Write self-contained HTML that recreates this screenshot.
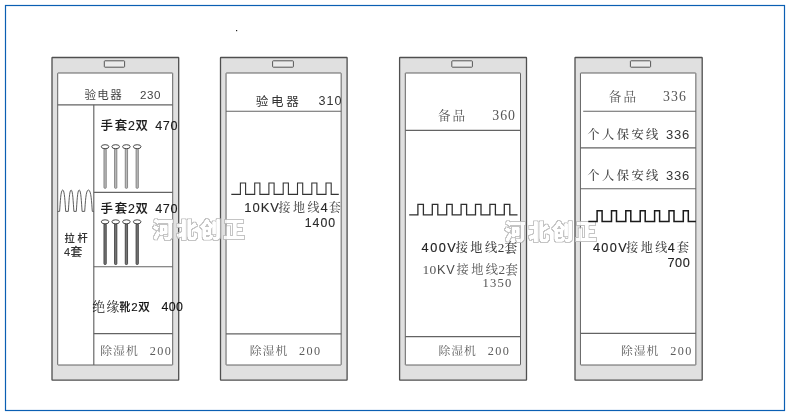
<!DOCTYPE html>
<html lang="zh"><head><meta charset="utf-8"><title>安全工具柜</title>
<style>
html,body{margin:0;padding:0;background:#fff;}
body{width:790px;height:416px;overflow:hidden;position:relative;}
svg{position:absolute;left:0;top:0;display:block;will-change:transform;}
.sans{font-family:"Liberation Sans","Noto Sans CJK SC",sans-serif;}
.serif{font-family:"Liberation Serif","Noto Serif CJK SC",serif;}
.m{font-weight:500;}
.hb{font-weight:500;stroke:currentColor;stroke-width:0.12px;}
.wm{font-family:"Liberation Sans","Noto Sans CJK SC",sans-serif;font-weight:900;fill:#fff;stroke:#fff;stroke-width:0.3;stroke-linejoin:round;}
</style></head><body>
<svg width="790" height="416" viewBox="0 0 790 416">
<rect x="5.5" y="5.5" width="779" height="405" fill="none" stroke="#0b5fb3" stroke-width="1.2"/>
<rect x="236" y="30" width="1.2" height="1.2" fill="#222"/>
<rect x="52.0" y="57.5" width="126.7" height="322.6" rx="0.4" fill="#e0e0e0" stroke="#4f4f4f" stroke-width="1.3"/>
<rect x="57.7" y="73.0" width="115.0" height="292.0" rx="0.4" fill="#fff" stroke="#636363" stroke-width="1"/>
<rect x="104.3" y="60.8" width="20.3" height="6.4" rx="0.7" fill="#eaeaea" stroke="#555" stroke-width="1"/>
<line x1="57.7" y1="104.8" x2="172.7" y2="104.8" stroke="#636363" stroke-width="1.15"/>
<line x1="93.8" y1="104.8" x2="93.8" y2="365.0" stroke="#636363" stroke-width="1.15"/>
<line x1="93.8" y1="192.4" x2="172.7" y2="192.4" stroke="#636363" stroke-width="1.15"/>
<line x1="93.8" y1="266.7" x2="172.7" y2="266.7" stroke="#636363" stroke-width="1.15"/>
<line x1="93.8" y1="333.6" x2="172.7" y2="333.6" stroke="#636363" stroke-width="1.15"/>
<text x="84.4 97.3 110.2" y="99" font-size="11.5" class="sans" fill="#444" color="#444">验电器</text>
<text x="140.0 146.9 153.9" y="98.6" font-size="11.6" class="sans" fill="#444" color="#444">230</text>
<text x="100.4 114.8 127.9 135.4" y="130.2" font-size="12.4" class="sans hb" fill="#1a1a1a" color="#1a1a1a">手套2双</text>
<text x="155.2 162.8 170.4" y="130.2" font-size="12.6" class="sans hb" fill="#1a1a1a" color="#1a1a1a">470</text>
<text x="100.4 114.8 127.9 135.4" y="213.0" font-size="12.4" class="sans hb" fill="#1a1a1a" color="#1a1a1a">手套2双</text>
<text x="155.2 162.8 170.4" y="213.0" font-size="12.6" class="sans hb" fill="#1a1a1a" color="#1a1a1a">470</text>
<rect x="103.95" y="148.7" width="2.3" height="39.6" rx="0.8" fill="#bbb" stroke="#666" stroke-width="0.7"/><ellipse cx="105.1" cy="146.7" rx="3.8" ry="2.0" fill="#fff" stroke="#333" stroke-width="0.9"/>
<rect x="114.55" y="148.7" width="2.3" height="39.6" rx="0.8" fill="#bbb" stroke="#666" stroke-width="0.7"/><ellipse cx="115.7" cy="146.7" rx="3.8" ry="2.0" fill="#fff" stroke="#333" stroke-width="0.9"/>
<rect x="125.25" y="148.7" width="2.3" height="39.6" rx="0.8" fill="#bbb" stroke="#666" stroke-width="0.7"/><ellipse cx="126.4" cy="146.7" rx="3.8" ry="2.0" fill="#fff" stroke="#333" stroke-width="0.9"/>
<rect x="136.05" y="148.7" width="2.3" height="39.6" rx="0.8" fill="#bbb" stroke="#666" stroke-width="0.7"/><ellipse cx="137.2" cy="146.7" rx="3.8" ry="2.0" fill="#fff" stroke="#333" stroke-width="0.9"/>
<rect x="103.95" y="223.8" width="2.3" height="40.7" rx="0.8" fill="#777" stroke="#333" stroke-width="0.8"/><ellipse cx="105.1" cy="221.8" rx="3.8" ry="2.0" fill="#fff" stroke="#333" stroke-width="0.9"/>
<rect x="114.55" y="223.8" width="2.3" height="40.7" rx="0.8" fill="#777" stroke="#333" stroke-width="0.8"/><ellipse cx="115.7" cy="221.8" rx="3.8" ry="2.0" fill="#fff" stroke="#333" stroke-width="0.9"/>
<rect x="125.25" y="223.8" width="2.3" height="40.7" rx="0.8" fill="#777" stroke="#333" stroke-width="0.8"/><ellipse cx="126.4" cy="221.8" rx="3.8" ry="2.0" fill="#fff" stroke="#333" stroke-width="0.9"/>
<rect x="136.05" y="223.8" width="2.3" height="40.7" rx="0.8" fill="#777" stroke="#333" stroke-width="0.8"/><ellipse cx="137.2" cy="221.8" rx="3.8" ry="2.0" fill="#fff" stroke="#333" stroke-width="0.9"/>
<path d="M57.7 211.4 H59.6 C60.30 202.4 60.70 190.0 62.7 190.0 C64.60 190.0 65.00 202.4 65.7 211.4 H68.3 C69.00 202.4 69.40 190.0 71.1 190.0 C72.80 190.0 73.20 202.4 73.9 211.4 H76.3 C77.00 202.4 77.40 190.0 79.2 190.0 C81.00 190.0 81.40 202.4 82.1 211.4 H84.7 C85.40 202.4 85.80 190.0 88.4 190.0 C91.20 190.0 91.60 202.4 92.3 211.4 H93.8" fill="none" stroke="#555" stroke-width="0.95"/>
<text x="64.5 77.4" y="241.9" font-size="10.2" class="sans hb" fill="#333" color="#333">拉杆</text>
<text x="63.9" y="255.6" font-size="11" class="sans hb" fill="#333" color="#333">4</text>
<text x="70.4" y="255.6" font-size="11.8" class="sans hb" fill="#333" color="#333">套</text>
<text x="92.2 106.6" y="310.7" font-size="12.8" class="serif" fill="#222" color="#222">绝缘</text>
<text x="119.6" y="310.6" font-size="10.8" class="sans hb" fill="#111" color="#111">靴</text>
<text x="131.3 138.2" y="310.8" font-size="11.5" class="sans hb" fill="#111" color="#111">2双</text>
<text x="161.6 168.8 176.0" y="310.9" font-size="12.4" class="sans hb" fill="#111" color="#111">400</text>
<text x="100.3 113.1 126.0" y="354.6" font-size="11.9" class="serif" fill="#5c5c5c" color="#5c5c5c">除湿机</text>
<text x="149.7 157.2 164.7" y="354.5" font-size="12.2" class="serif" fill="#5c5c5c" color="#5c5c5c">200</text>
<rect x="220.5" y="57.5" width="126.6" height="322.6" rx="0.4" fill="#e0e0e0" stroke="#4f4f4f" stroke-width="1.3"/>
<rect x="226.05" y="73.0" width="115.1" height="292.0" rx="0.4" fill="#fff" stroke="#636363" stroke-width="1"/>
<rect x="272.6" y="60.8" width="20.8" height="6.4" rx="0.7" fill="#eaeaea" stroke="#555" stroke-width="1"/>
<line x1="226.05" y1="111.2" x2="341.2" y2="111.2" stroke="#636363" stroke-width="1.15"/>
<line x1="226.05" y1="333.8" x2="341.2" y2="333.8" stroke="#636363" stroke-width="1.15"/>
<text x="255.8 271.0 286.2" y="105.5" font-size="12.5" class="sans" fill="#333" color="#333">验电器</text>
<text x="318.4 326.4 334.4" y="104.9" font-size="12.6" class="sans" fill="#333" color="#333">310</text>
<path d="M231.3 194.4 H240.4 V183.0 H245.6 V194.4 H254.7 V183.0 H259.9 V194.4 H268.9 V183.0 H274.1 V194.4 H283.2 V183.0 H288.4 V194.4 H297.5 V183.0 H302.7 V194.4 H311.8 V183.0 H316.9 V194.4 H326.0 V183.0 H331.2 V194.4 H338.8" fill="none" stroke="#333" stroke-width="1.1" stroke-linejoin="miter"/>
<text x="244.2" stroke="#2a2a2a" stroke-width="0.12" textLength="34.8" lengthAdjust="spacing" y="212.1" font-size="13" class="sans" fill="#2a2a2a" color="#2a2a2a">10KV</text>
<text x="278.6 293.0 307.4" y="212.3" font-size="12" class="serif m" fill="#505050" color="#505050">接地线</text>
<text x="320.6" y="212.1" font-size="13" class="sans hb" fill="#2a2a2a" color="#2a2a2a">4</text>
<text x="328.8" y="212.3" font-size="12" class="serif m" fill="#505050" color="#505050">套</text>
<text x="304.8 312.6 320.4 328.2" y="226.7" font-size="12.3" class="sans hb" fill="#2a2a2a" color="#2a2a2a">1400</text>
<text x="249.7 262.6 275.4" y="354.6" font-size="11.9" class="serif" fill="#5c5c5c" color="#5c5c5c">除湿机</text>
<text x="299.1 306.6 314.1" y="354.5" font-size="12.2" class="serif" fill="#5c5c5c" color="#5c5c5c">200</text>
<rect x="399.6" y="57.5" width="126.9" height="322.6" rx="0.4" fill="#e0e0e0" stroke="#4f4f4f" stroke-width="1.3"/>
<rect x="405.3" y="73.0" width="115.2" height="292.0" rx="0.4" fill="#fff" stroke="#636363" stroke-width="1"/>
<rect x="451.8" y="60.8" width="20.6" height="6.4" rx="0.7" fill="#eaeaea" stroke="#555" stroke-width="1"/>
<line x1="405.3" y1="130.3" x2="520.5" y2="130.3" stroke="#636363" stroke-width="1.15"/>
<line x1="405.3" y1="336.6" x2="520.5" y2="336.6" stroke="#636363" stroke-width="1.15"/>
<text x="437.9 452.5" y="119.8" font-size="12.6" class="serif" fill="#555" color="#555">备品</text>
<text x="492.3 500.2 508.1" y="119.7" font-size="13.8" class="serif" fill="#555" color="#555">360</text>
<path d="M409.2 214.8 H417.9 V204.3 H423.4 V214.8 H432.3 V204.3 H437.8 V214.8 H446.7 V204.3 H452.2 V214.8 H461.1 V204.3 H466.6 V214.8 H475.5 V204.3 H481.0 V214.8 H489.9 V204.3 H495.4 V214.8 H504.3 V204.3 H509.8 V214.8 H517.5" fill="none" stroke="#2e2e2e" stroke-width="1.3" stroke-linejoin="miter"/>
<text x="421.6" y="251.5" font-size="12.7" class="sans" fill="#222" stroke="#222" stroke-width="0.15" textLength="34.2" lengthAdjust="spacing">400V</text>
<text x="455.7 470.3 484.9" y="251.8" font-size="12.2" class="serif m" fill="#3a3a3a" color="#3a3a3a">接地线</text>
<text x="497.7" y="251.5" font-size="13.2" class="serif m" fill="#3a3a3a" color="#3a3a3a">2</text>
<text x="504.4" y="251.8" font-size="12.6" class="serif m" fill="#3a3a3a" color="#3a3a3a">套</text>
<text x="422.6" y="273.6" font-size="13.5" class="serif" fill="#585858" textLength="13.6" lengthAdjust="spacing">10</text>
<text x="436.9 446.3" y="273.6" font-size="12.7" class="sans" fill="#4a4a4a" color="#4a4a4a">KV</text>
<text x="456.6 471.2 485.8" y="273.8" font-size="12.2" class="serif" fill="#555" color="#555">接地线</text>
<text x="498.6" y="273.5" font-size="13.2" class="serif" fill="#555" color="#555">2</text>
<text x="505.3" y="273.8" font-size="12.6" class="serif" fill="#555" color="#555">套</text>
<text x="482.6 490.1 497.6 505.1" y="287.0" font-size="12.6" class="serif" fill="#555" color="#555">1350</text>
<text x="438.4 451.2 464.1" y="354.6" font-size="11.9" class="serif" fill="#5c5c5c" color="#5c5c5c">除湿机</text>
<text x="487.8 495.3 502.8" y="354.5" font-size="12.2" class="serif" fill="#5c5c5c" color="#5c5c5c">200</text>
<rect x="575.0" y="57.5" width="127.2" height="322.6" rx="0.4" fill="#e0e0e0" stroke="#4f4f4f" stroke-width="1.3"/>
<rect x="580.45" y="73.0" width="115.4" height="292.0" rx="0.4" fill="#fff" stroke="#636363" stroke-width="1"/>
<rect x="630.4" y="60.8" width="20.2" height="6.4" rx="0.7" fill="#eaeaea" stroke="#555" stroke-width="1"/>
<line x1="583.2" y1="111.2" x2="695.9" y2="111.2" stroke="#636363" stroke-width="1.15"/>
<line x1="580.45" y1="147.9" x2="695.9" y2="147.9" stroke="#636363" stroke-width="1.15"/>
<line x1="580.45" y1="188.75" x2="695.9" y2="188.75" stroke="#636363" stroke-width="1.15"/>
<line x1="580.45" y1="333.3" x2="695.9" y2="333.3" stroke="#636363" stroke-width="1.15"/>
<text x="608.8 623.4" y="101.2" font-size="12.6" class="serif" fill="#555" color="#555">备品</text>
<text x="662.9 671.0 679.1" y="101.0" font-size="13.8" class="serif" fill="#555" color="#555">336</text>
<text x="587.3 602.0 616.7 631.4 646.1" y="138.7" font-size="12.3" class="serif m" fill="#444" color="#444">个人保安线</text>
<text x="666.0 674.0 682.0" y="138.79999999999998" font-size="13" class="sans" fill="#333" color="#333">336</text>
<text x="587.3 602.0 616.7 631.4 646.1" y="180.0" font-size="12.3" class="serif m" fill="#444" color="#444">个人保安线</text>
<text x="666.0 674.0 682.0" y="180.1" font-size="13" class="sans" fill="#333" color="#333">336</text>
<text x="592.9" y="251.9" font-size="12.7" class="sans" fill="#222" stroke="#222" stroke-width="0.15" textLength="33.8" lengthAdjust="spacing">400V</text>
<text x="626.2 640.7 655.2" y="252.2" font-size="12" class="serif m" fill="#444" color="#444">接地线</text>
<text x="667.8" y="251.9" font-size="12.7" class="sans hb" fill="#222" color="#222">4</text>
<text x="676.6" y="252.2" font-size="12.5" class="serif m" fill="#444" color="#444">套</text>
<text x="667.4 675.1 682.8" y="266.7" font-size="12.7" class="sans hb" fill="#222" color="#222">700</text>
<text x="620.9 633.8 646.6" y="354.6" font-size="11.9" class="serif" fill="#5c5c5c" color="#5c5c5c">除湿机</text>
<text x="670.3 677.8 685.3" y="354.5" font-size="12.2" class="serif" fill="#5c5c5c" color="#5c5c5c">200</text>
<filter id="wmf" x="-10%" y="-20%" width="120%" height="140%"><feComponentTransfer in="SourceAlpha" result="sa"><feFuncA type="linear" slope="3" intercept="-1.5"/></feComponentTransfer><feMorphology in="sa" operator="dilate" radius="1" result="d"/><feComposite in="d" in2="sa" operator="out" result="ringa"/><feFlood flood-color="#bcbcbc"/><feComposite in2="ringa" operator="in" result="ring"/><feFlood flood-color="#fff"/><feComposite in2="sa" operator="in" result="body"/><feMerge><feMergeNode in="ring"/><feMergeNode in="body"/></feMerge></filter>
<g opacity="0.88" filter="url(#wmf)">
<text x="152.8 176.4 200.0 223.6" y="237.0" font-size="21" class="wm" fill="#333" color="#333">河北创正</text>
<text x="504.8 528.4 552.0 575.6" y="238.5" font-size="21" class="wm" fill="#333" color="#333">河北创正</text>
</g>
<path d="M588.3 221.6 H597.1 V210.8 H602.1 V221.6 H611.5 V210.8 H616.5 V221.6 H625.8 V210.8 H630.8 V221.6 H640.2 V210.8 H645.2 V221.6 H654.6 V210.8 H659.6 V221.6 H669.0 V210.8 H674.0 V221.6 H683.3 V210.8 H688.3 V221.6 H695.9" fill="none" stroke="#1a1a1a" stroke-width="1.5" stroke-linejoin="miter"/>
</svg>
</body></html>
